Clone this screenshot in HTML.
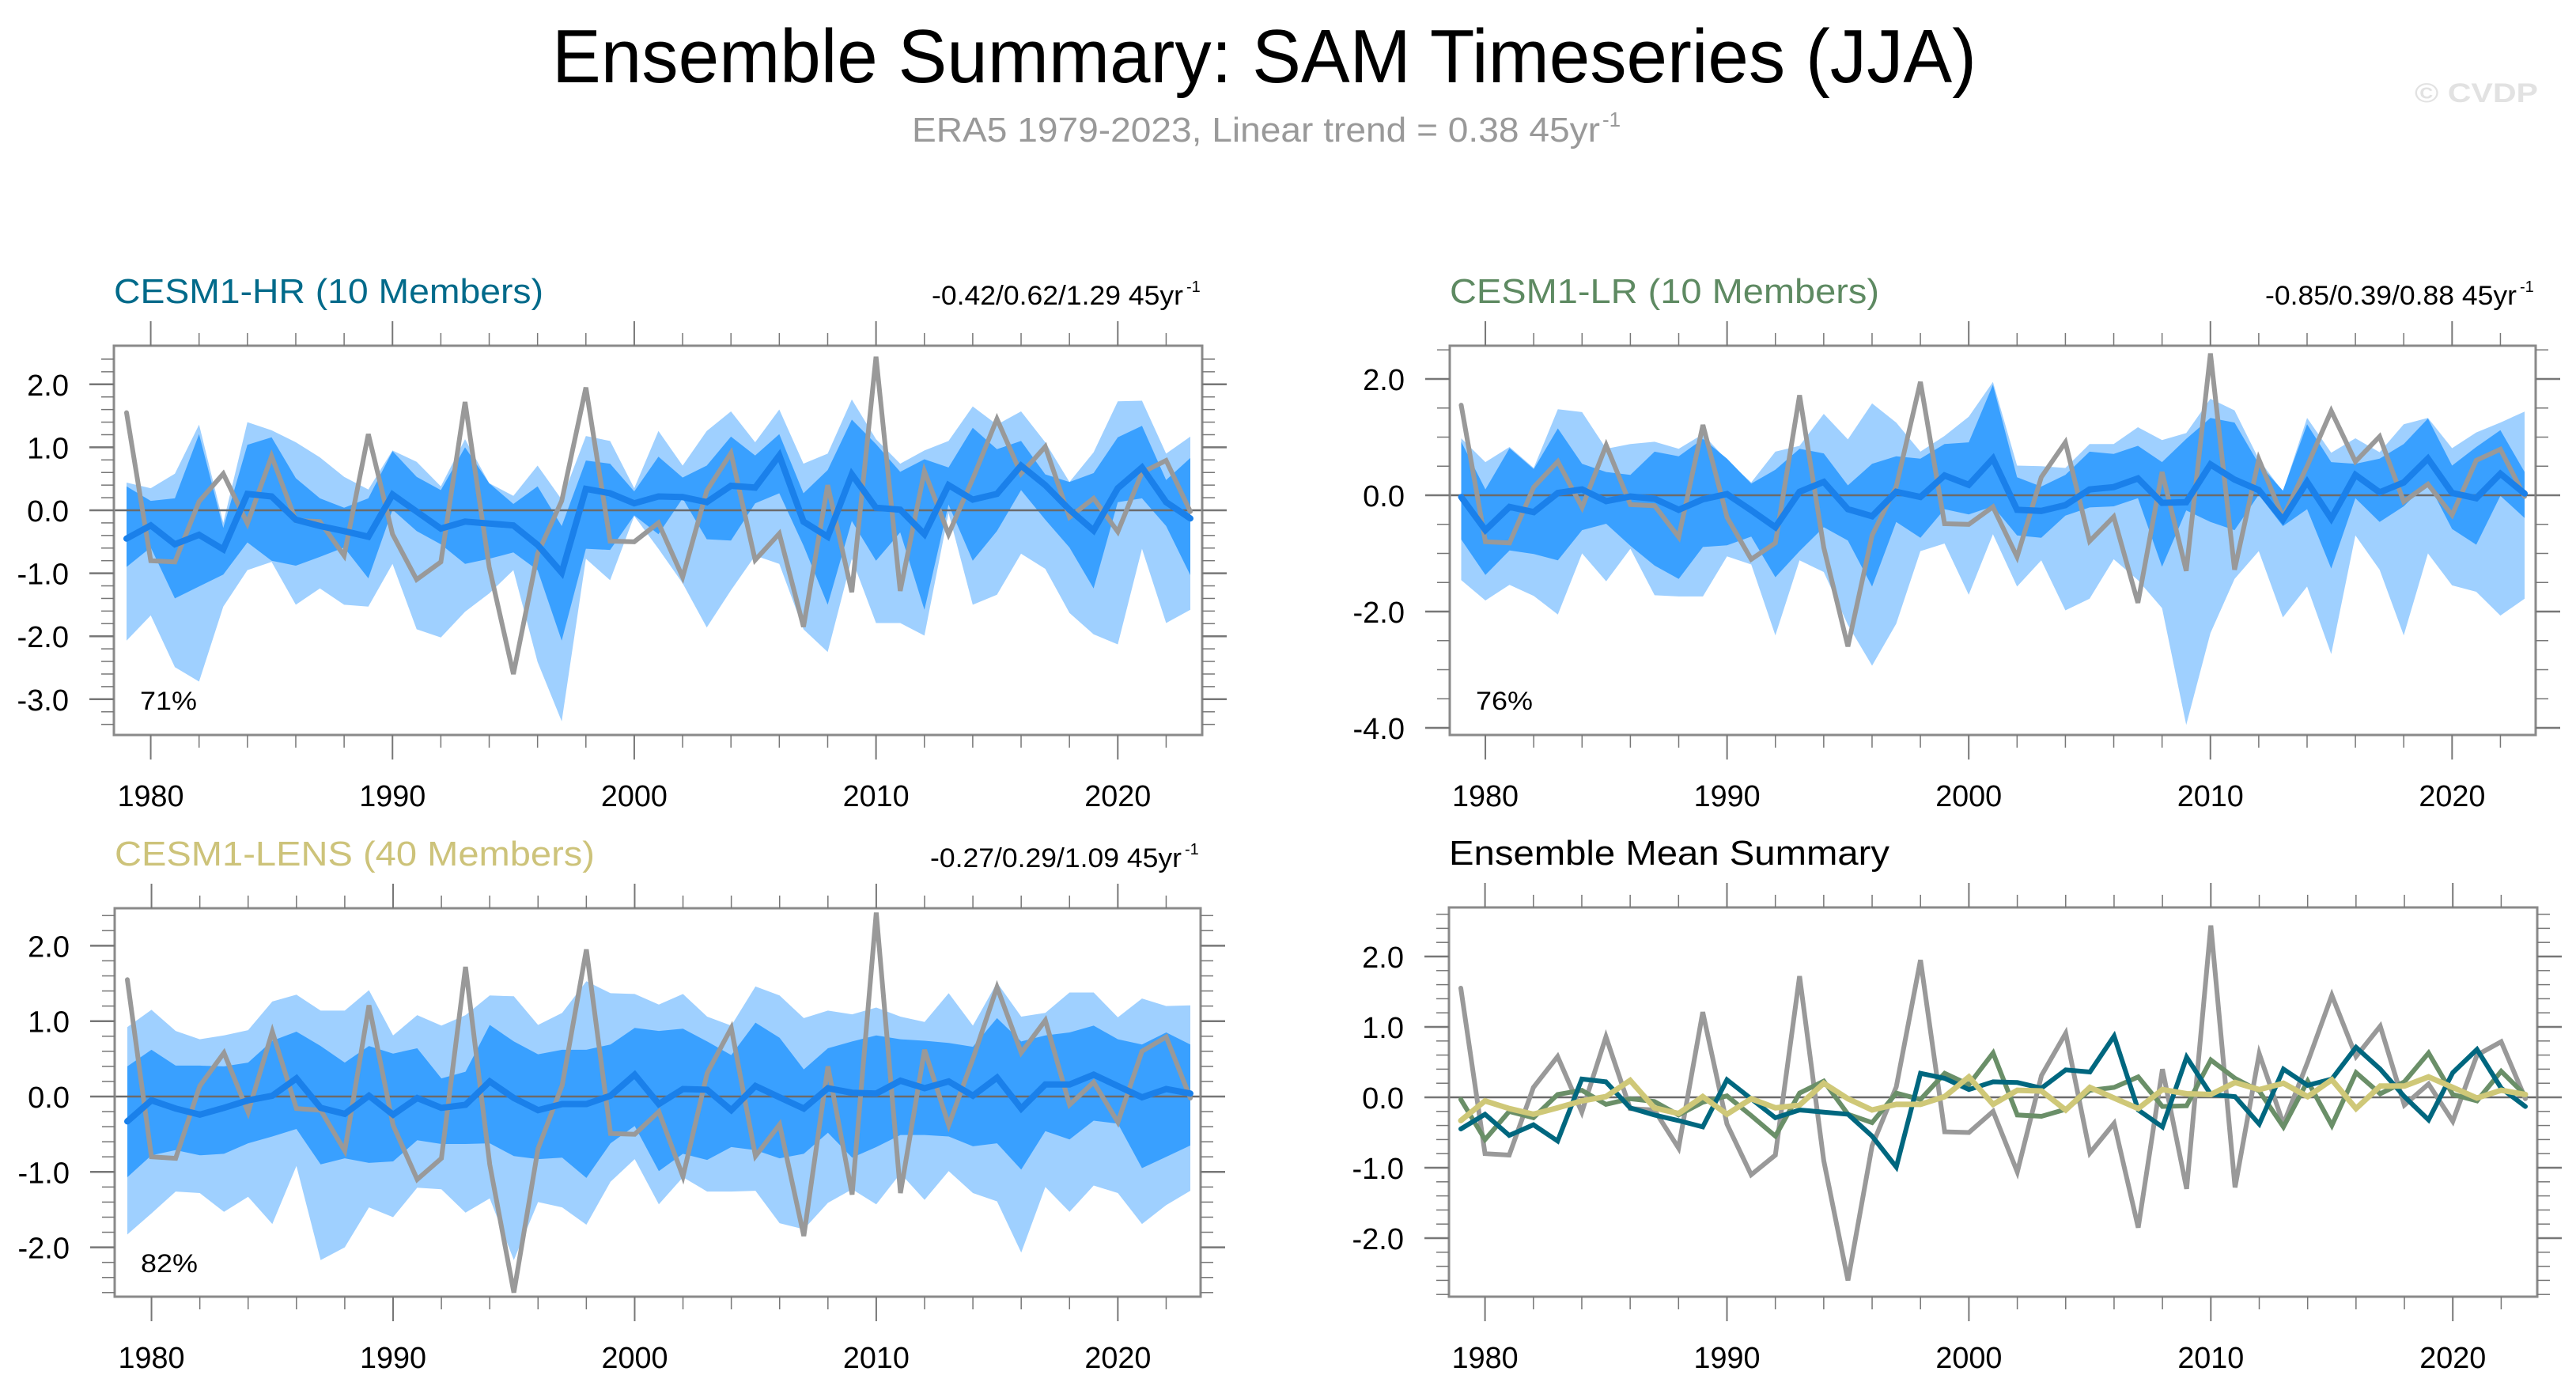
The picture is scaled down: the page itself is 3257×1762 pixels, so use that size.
<!DOCTYPE html>
<html><head><meta charset="utf-8">
<style>
html,body{margin:0;padding:0;background:#fff;}
svg{display:block;font-family:"Liberation Sans",sans-serif;}
</style></head>
<body>
<svg id="chart" width="3257" height="1762" viewBox="0 0 3257 1762" xmlns="http://www.w3.org/2000/svg">
<rect x="0" y="0" width="3257" height="1762" fill="#fff"/>
<text x="698" y="104" font-size="96" textLength="1801" lengthAdjust="spacingAndGlyphs" fill="#000">Ensemble Summary: SAM Timeseries (JJA)</text>
<text x="1153" y="179" font-size="44" fill="#999" textLength="870" lengthAdjust="spacingAndGlyphs">ERA5 1979-2023, Linear trend = 0.38 45yr</text>
<text x="2026" y="160" font-size="26" fill="#999">-1</text>
<text x="3053" y="129" font-size="34" font-weight="bold" fill="#e2e2e2" textLength="156" lengthAdjust="spacingAndGlyphs">© CVDP</text>
<g id="panels"></g>
</svg>
<script>
const years = [];
for (let y = 1979; y <= 2023; y++) years.push(y);

const era5 = [1.55,-0.80,-0.82,0.14,0.58,-0.21,0.86,-0.16,-0.18,-0.72,1.21,-0.38,-1.10,-0.82,1.72,-0.90,-2.60,-0.69,0.15,1.95,-0.49,-0.50,-0.20,-1.06,0.31,0.91,-0.79,-0.37,-1.85,0.40,-1.30,2.44,-1.28,0.62,-0.38,0.50,1.45,0.58,1.01,-0.11,0.19,-0.34,0.60,0.79,-0.02];

const hrMean = [-0.45,-0.24,-0.54,-0.39,-0.62,0.26,0.22,-0.15,-0.25,-0.33,-0.42,0.25,-0.02,-0.29,-0.18,-0.21,-0.24,-0.55,-0.99,0.34,0.27,0.11,0.22,0.21,0.13,0.39,0.36,0.87,-0.18,-0.42,0.57,0.04,0.01,-0.38,0.40,0.17,0.26,0.71,0.40,0.01,-0.32,0.35,0.68,0.13,-0.13];
const hrLightHi = [0.44,0.35,0.58,1.36,-0.20,1.40,1.27,1.08,0.84,0.53,0.33,0.95,0.77,0.38,1.13,0.43,0.23,0.71,0.17,1.18,1.10,0.35,1.26,0.71,1.26,1.57,1.08,1.60,0.74,0.90,1.76,1.13,0.74,0.95,1.10,1.65,1.36,1.57,1.08,0.45,0.92,1.73,1.74,0.90,1.17];
const hrDarkHi = [0.38,0.15,0.19,1.21,-0.28,1.04,1.16,0.51,0.19,0.04,0.19,0.94,0.53,0.32,1.00,0.43,0.10,0.38,-0.25,0.79,0.74,0.30,0.85,0.52,0.71,1.17,0.87,1.21,0.27,0.64,1.44,1.05,0.61,0.81,0.68,1.31,0.97,1.10,0.57,0.45,0.59,1.16,1.34,0.48,0.83];
const hrDarkLo = [-0.90,-0.59,-1.40,-1.21,-1.02,-0.51,-0.80,-0.88,-0.74,-0.59,-1.08,0.01,-0.33,-0.54,-0.85,-0.77,-0.67,-0.95,-2.07,-0.61,-0.63,-0.08,-0.38,0.19,-0.46,-0.48,0.11,0.27,-0.56,-1.50,-0.17,-0.80,-0.35,-1.58,0.09,-0.80,-0.33,0.32,-0.15,-0.59,-1.24,0.13,0.19,-0.25,-1.03];
const hrLightLo = [-2.07,-1.67,-2.49,-2.72,-1.53,-0.95,-0.82,-1.50,-1.24,-1.50,-1.53,-0.85,-1.89,-2.02,-1.61,-1.32,-0.95,-2.41,-3.35,-0.77,-1.11,-0.09,-0.61,-1.16,-1.86,-1.27,-0.72,-0.85,-1.89,-2.25,-0.77,-1.79,-1.79,-1.99,-0.04,-1.50,-1.34,-0.69,-0.93,-1.63,-1.97,-2.13,-0.61,-1.79,-1.58];

const lrMean = [-0.03,-0.60,-0.20,-0.29,0.04,0.10,-0.10,-0.02,-0.06,-0.25,-0.07,0.02,-0.26,-0.55,0.06,0.23,-0.24,-0.36,0.06,-0.03,0.34,0.18,0.63,-0.25,-0.27,-0.17,0.10,0.14,0.29,-0.13,-0.12,0.53,0.27,0.09,-0.42,0.23,-0.40,0.35,0.05,0.22,0.63,0.04,-0.05,0.37,0.03];
const lrLightHi = [0.98,0.57,0.83,0.47,1.48,1.43,0.80,0.88,0.92,0.80,1.05,0.60,0.22,0.75,0.85,1.40,0.96,1.58,1.25,0.75,1.02,1.35,1.95,0.51,0.50,0.47,0.88,0.88,1.17,0.95,1.07,1.66,1.46,0.62,0.06,1.33,0.73,0.98,0.74,1.22,1.33,0.81,1.08,1.25,1.44];
const lrDarkHi = [0.92,0.10,0.81,0.45,1.15,0.54,0.40,0.35,0.75,0.67,0.97,0.63,0.20,0.44,0.80,0.72,0.17,0.54,0.67,0.63,0.88,0.91,1.90,0.31,0.15,0.35,0.75,0.71,0.85,0.57,0.97,1.33,1.25,0.54,0.08,1.22,0.57,0.54,0.63,0.88,1.32,0.51,0.83,1.12,0.40];
const lrDarkLo = [-0.76,-1.37,-0.95,-1.01,-1.12,-0.60,-0.49,-0.87,-1.21,-1.44,-0.89,-0.86,-0.71,-1.41,-0.96,-0.55,-0.78,-1.57,-0.46,-0.73,-0.24,-0.33,-0.19,-0.69,-0.73,-0.35,-0.21,-0.19,-0.05,-1.23,-0.26,-0.46,-0.60,0.01,-0.53,-0.24,-1.26,-0.05,-0.46,-0.19,0.22,-0.58,-0.85,-0.01,-0.39];
const lrLightLo = [-1.46,-1.81,-1.54,-1.73,-2.05,-1.00,-1.48,-0.92,-1.72,-1.74,-1.74,-1.05,-1.19,-2.41,-1.12,-1.32,-2.23,-2.93,-2.21,-0.96,-0.83,-1.71,-0.67,-1.57,-1.12,-1.98,-1.78,-1.10,-1.46,-1.94,-3.95,-2.37,-1.44,-0.96,-2.10,-1.57,-2.73,-0.69,-1.28,-2.41,-1.00,-1.55,-1.66,-2.07,-1.78];

const lensMean = [-0.33,-0.05,-0.16,-0.24,-0.15,-0.05,0.01,0.24,-0.15,-0.23,0.01,-0.24,-0.02,-0.15,-0.11,0.20,-0.02,-0.18,-0.10,-0.10,0.01,0.29,-0.10,0.10,0.09,-0.18,0.14,-0.01,-0.16,0.11,0.05,0.04,0.21,0.11,0.20,0.01,0.25,-0.16,0.16,0.16,0.29,0.14,-0.01,0.10,0.04];
const lensLightHi = [0.92,1.15,0.87,0.76,0.81,0.88,1.26,1.35,1.14,1.14,1.41,0.81,1.08,0.94,1.08,1.34,1.33,0.95,1.11,1.53,1.37,1.36,1.22,1.36,1.06,0.94,1.46,1.34,1.04,1.14,1.09,1.18,1.06,0.99,1.37,0.94,1.51,1.06,1.11,1.38,1.38,1.05,1.30,1.20,1.21];
const lensDarkHi = [0.40,0.62,0.41,0.41,0.40,0.45,0.74,0.86,0.67,0.45,0.67,0.57,0.64,0.24,0.33,0.95,0.73,0.56,0.62,0.62,0.69,0.91,0.87,0.90,0.73,0.55,0.98,0.78,0.36,0.64,0.73,0.81,0.76,0.74,0.71,0.66,1.04,0.73,0.81,0.85,0.94,0.76,0.69,0.85,0.69];
const lensDarkLo = [-1.07,-0.78,-0.71,-0.78,-0.76,-0.62,-0.53,-0.43,-0.90,-0.82,-0.88,-0.86,-0.58,-0.63,-0.63,-0.62,-0.79,-0.83,-0.81,-1.08,-0.62,-0.39,-0.99,-0.76,-0.84,-0.67,-0.71,-0.82,-0.76,-0.48,-0.81,-0.67,-0.51,-0.51,-0.53,-0.66,-0.62,-0.97,-0.46,-0.57,-0.32,-0.36,-0.95,-0.80,-0.65];
const lensLightLo = [-1.83,-1.55,-1.26,-1.28,-1.53,-1.33,-1.69,-0.92,-2.17,-2.00,-1.47,-1.60,-1.21,-1.23,-1.54,-1.35,-2.17,-1.40,-1.47,-1.70,-1.13,-0.83,-1.43,-1.07,-1.26,-1.26,-1.25,-1.68,-1.76,-1.41,-1.23,-1.43,-1.02,-1.37,-0.99,-1.28,-1.39,-2.07,-1.20,-1.53,-1.18,-1.28,-1.69,-1.44,-1.25];

const xTickYears = [1980,1990,2000,2010,2020];

const NS = "http://www.w3.org/2000/svg";
const root = document.getElementById('panels');
function mk(tag, attrs, parent) {
  const e = document.createElementNS(NS, tag);
  for (const k in attrs) e.setAttribute(k, attrs[k]);
  (parent || root).appendChild(e);
  return e;
}

function drawPanel(cfg) {
  const g = mk('g', {});
  
  
  const xs = yr => cfg.x1979 + (yr - 1979) * (cfg.x2023 - cfg.x1979) / 44;
  const ys = v => cfg.zero - v * cfg.unit;

  // bands
  function band(hi, lo, color, nm) {
    let d = '';
    years.forEach((yr, i) => { d += (i ? 'L' : 'M') + xs(yr).toFixed(1) + ',' + ys(hi[i]).toFixed(1); });
    for (let i = years.length - 1; i >= 0; i--) d += 'L' + xs(years[i]).toFixed(1) + ',' + ys(lo[i]).toFixed(1);
    const p = mk('path', {d: d + 'Z', fill: color}, g);
    
    
  }
  if (cfg.bands) {
    band(cfg.bands[0], cfg.bands[3], '#9fd0ff', 'outer-spread-band');
    band(cfg.bands[1], cfg.bands[2], '#39a0ff', 'inner-spread-band');
  }
  // zero line
  const zl = mk('line', {x1: cfg.fx0, x2: cfg.fx1, y1: ys(0), y2: ys(0), stroke: '#6b6b6b', 'stroke-width': 2.5}, g);
  
  

  function line(vals, color, w, nm) {
    let d = '';
    years.forEach((yr, i) => { d += (i ? 'L' : 'M') + xs(yr).toFixed(1) + ',' + ys(vals[i]).toFixed(1); });
    const p = mk('path', {d: d, fill: 'none', stroke: color, 'stroke-width': w, 'stroke-linejoin': 'miter', 'stroke-linecap': 'round'}, g);
    
    
  }
  cfg.lines.forEach(l => line(l[0], l[1], l[2], l[3]));

  // frame
  const fr = mk('rect', {x: cfg.fx0, y: cfg.fy0, width: cfg.fx1 - cfg.fx0, height: cfg.fy1 - cfg.fy0, fill: 'none', stroke: '#8a8a8a', 'stroke-width': 3}, g);
  
  

  // x ticks (every year? every 2 years minor, decades major)
  for (let yr = 1980; yr <= 2022; yr += 2) {
    const major = yr % 10 === 0;
    const L = major ? 31 : 16;
    const x = xs(yr);
    mk('line', {x1: x, x2: x, y1: cfg.fy0, y2: cfg.fy0 - L, stroke: '#777', 'stroke-width': major ? 2 : 1.5}, g);
    mk('line', {x1: x, x2: x, y1: cfg.fy1, y2: cfg.fy1 + L, stroke: '#777', 'stroke-width': major ? 2 : 1.5}, g);
  }
  xTickYears.forEach(yr => {
    const t = mk('text', {x: xs(yr), y: cfg.fy1 + 90, 'font-size': 38, 'text-anchor': 'middle', fill: '#000', textLength: 84, lengthAdjust: 'spacingAndGlyphs'}, g);
    t.textContent = yr;
    
    
  });
  // y ticks
  const nSteps = Math.round((cfg.yMax - cfg.yMin) / cfg.minor);
  for (let k = 0; k <= nSteps; k++) {
    const v = cfg.yMin + k * cfg.minor;
    const y = ys(v);
    if (y < cfg.fy0 + 2 || y > cfg.fy1 - 2) continue;
    const major = Math.abs(v / cfg.major - Math.round(v / cfg.major)) < 1e-6;
    const L = major ? 31 : 16;
    mk('line', {x1: cfg.fx0, x2: cfg.fx0 - L, y1: y, y2: y, stroke: '#777', 'stroke-width': major ? 2.5 : 1.5}, g);
    mk('line', {x1: cfg.fx1, x2: cfg.fx1 + L, y1: y, y2: y, stroke: '#777', 'stroke-width': major ? 2.5 : 1.5}, g);
    if (major) {
      const t = mk('text', {x: cfg.fx0 - 57, y: y + 14, 'font-size': 38, 'text-anchor': 'end', fill: '#000'}, g);
      t.textContent = v.toFixed(1);
      
      
    }
  }
  // titles
  const tt = mk('text', {x: cfg.fx0, y: cfg.fy0 - 54, 'font-size': 44, fill: cfg.titleColor, textLength: cfg.titleLen, lengthAdjust: 'spacingAndGlyphs'}, g);
  tt.textContent = cfg.title;
  
  
  if (cfg.trend) {
    const tr = mk('text', {x: cfg.fx1 - 24, y: cfg.fy0 - 52, 'font-size': 34, 'text-anchor': 'end', fill: '#000', textLength: 318, lengthAdjust: 'spacingAndGlyphs'}, g);
    tr.textContent = cfg.trend;
    
    
    const sp = mk('text', {x: cfg.fx1 - 20, y: cfg.fy0 - 68, 'font-size': 20, fill: '#000'}, g);
    sp.textContent = '-1';
    
    
  }
  if (cfg.pct) {
    const pc = mk('text', {x: cfg.fx0 + 33, y: cfg.pctY, 'font-size': 32, fill: '#000', textLength: 72, lengthAdjust: 'spacingAndGlyphs'}, g);
    pc.textContent = cfg.pct;
    
    
  }
}

drawPanel({name: 'panel-cesm1-hr', fx0: 144, fx1: 1520, fy0: 437, fy1: 929, x1979: 160, x2023: 1505, zero: 645, unit: 79.6,
  yMin: -3.6, yMax: 2.8, minor: 0.2, major: 1, bands: [hrLightHi, hrDarkHi, hrDarkLo, hrLightLo],
  lines: [[era5, '#999', 6, 'era5-line'], [hrMean, '#1a80ea', 8, 'ensemble-mean-line']],
  title: 'CESM1-HR (10 Members)', titleColor: '#006a8a', titleLen: 543, trend: '-0.42/0.62/1.29 45yr', pct: '71%', pctY: 897});
drawPanel({name: 'panel-cesm1-lr', fx0: 1833, fx1: 3206, fy0: 437, fy1: 929, x1979: 1847.5, x2023: 3192, zero: 626, unit: 73.5,
  yMin: -5, yMax: 3, minor: 0.5, major: 2, bands: [lrLightHi, lrDarkHi, lrDarkLo, lrLightLo],
  lines: [[era5, '#999', 6, 'era5-line'], [lrMean, '#1a80ea', 8, 'ensemble-mean-line']],
  title: 'CESM1-LR (10 Members)', titleColor: '#5e8a62', titleLen: 543, trend: '-0.85/0.39/0.88 45yr', pct: '76%', pctY: 897});
drawPanel({name: 'panel-cesm1-lens', fx0: 145, fx1: 1518, fy0: 1148, fy1: 1639, x1979: 161, x2023: 1505, zero: 1386, unit: 95.3,
  yMin: -2.8, yMax: 2.8, minor: 0.2, major: 1, bands: [lensLightHi, lensDarkHi, lensDarkLo, lensLightLo],
  lines: [[era5, '#999', 6, 'era5-line'], [lensMean, '#1a80ea', 8, 'ensemble-mean-line']],
  title: 'CESM1-LENS (40 Members)', titleColor: '#cdc37a', titleLen: 607, trend: '-0.27/0.29/1.09 45yr', pct: '82%', pctY: 1608});
drawPanel({name: 'panel-ensemble-mean-summary', fx0: 1832, fx1: 3208, fy0: 1147, fy1: 1639, x1979: 1847, x2023: 3193, zero: 1387, unit: 89,
  yMin: -2.8, yMax: 2.8, minor: 0.2, major: 1,
  lines: [[era5, '#999', 6, 'era5-line'], [lrMean, '#6a8f68', 6, 'cesm1-lr-mean-line'], [hrMean, '#00677f', 6, 'cesm1-hr-mean-line'], [lensMean, '#cfc878', 7, 'cesm1-lens-mean-line']],
  title: 'Ensemble Mean Summary', titleColor: '#000', titleLen: 557});
</script>
</body></html>
